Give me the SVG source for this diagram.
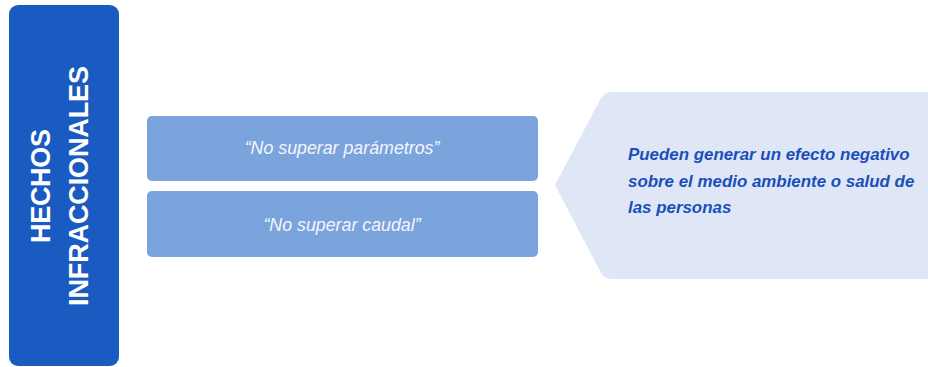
<svg xmlns="http://www.w3.org/2000/svg" width="928" height="367" viewBox="0 0 928 367">
<style>
.side{fill:#1a5bc1}
.side-t{fill:#ffffff;font-family:"Liberation Sans",Arial,sans-serif;font-weight:bold;font-size:27px;letter-spacing:1px}
.box{fill:#7ba4dc}
.box-t{fill:#f2f6fc;font-family:"Liberation Sans",Arial,sans-serif;font-style:italic;font-size:17.8px;text-anchor:middle}
.note{fill:#dfe7f6}
.note-t{fill:#1a4fb9;font-family:"Liberation Sans",Arial,sans-serif;font-style:italic;font-weight:bold;font-size:16.9px}
</style>
<g id="hechos">
<rect class="side" x="9" y="5" width="110" height="361" rx="9"/>
<text class="side-t" transform="translate(50,185.5) rotate(-90)" text-anchor="middle" textLength="115">HECHOS</text>
<text class="side-t" transform="translate(88,185.5) rotate(-90)" text-anchor="middle" textLength="241">INFRACCIONALES</text>
</g>
<g id="parametros">
<rect class="box" x="147" y="116" width="391" height="65" rx="5"/>
<text class="box-t" x="342" y="154">“No superar parámetros”</text>
</g>
<g id="caudal">
<rect class="box" x="147" y="191" width="391" height="66" rx="5"/>
<text class="box-t" x="342" y="231">“No superar caudal”</text>
</g>
<g id="efecto">
<path class="note" d="M555,185 L601,98 Q605,92 612,92 L928,92 L928,279 L612,279 Q605,279 601,273 Z"/>
<text class="note-t" x="628" y="160">Pueden generar un efecto negativo</text>
<text class="note-t" x="628" y="187">sobre el medio ambiente o salud de</text>
<text class="note-t" x="628" y="213">las personas</text>
</g>
<g id="connectors"></g>
</svg>
